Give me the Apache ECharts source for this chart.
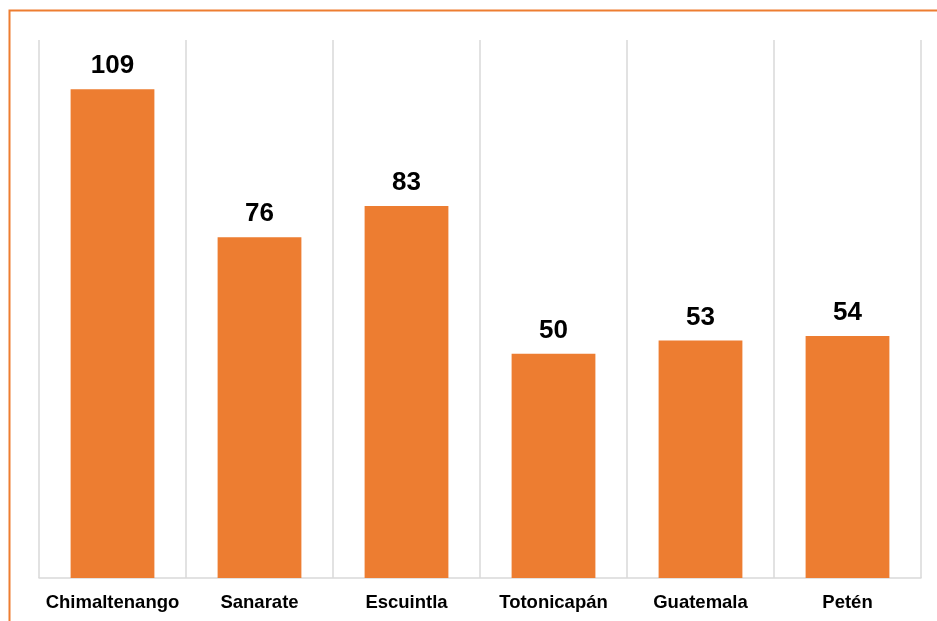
<!DOCTYPE html>
<html><head><meta charset="utf-8">
<script src="https://cdn.jsdelivr.net/npm/echarts@6/dist/echarts.min.js"></script>
<style>html,body{margin:0;padding:0;background:#fff}#c{width:937px;height:621px}</style>
</head><body><div id="c"></div>
<script>
const categories = ['Chimaltenango','Sanarate','Escuintla','Totonicapán','Guatemala','Petén'];
const values = [109, 76, 83, 50, 53, 54];
const chart = echarts.init(document.getElementById('c'), null, {renderer:'canvas'});
chart.setOption({
  animation:false,
  backgroundColor:'#fff',
  graphic:[{type:'rect', shape:{x:9.5,y:10.5,width:940,height:640}, style:{fill:'none', stroke:'#ED7D31', lineWidth:2}, silent:true}],
  grid:{left:39, right:16, top:40, bottom:43, containLabel:false},
  xAxis:{type:'category', data:categories, boundaryGap:true,
    axisLine:{show:true, lineStyle:{color:'#d9d9d9', width:1.5}},
    axisTick:{show:false},
    splitLine:{show:true, interval:0, lineStyle:{color:'#d9d9d9', width:1.5}},
    axisLabel:{interval:0, color:'#000', fontFamily:'Liberation Sans, Arial, sans-serif', fontWeight:'bold', fontSize:18.5, margin:15}},
  yAxis:{type:'value', min:0, max:120, show:false, splitLine:{show:false}},
  series:[{type:'bar', data:values, barWidth:'57%', itemStyle:{color:'#ED7D31'},
    label:{show:true, position:'top', distance:10, color:'#000', fontFamily:'Liberation Sans, Arial, sans-serif', fontWeight:'bold', fontSize:26}}]
});
</script></body></html>
